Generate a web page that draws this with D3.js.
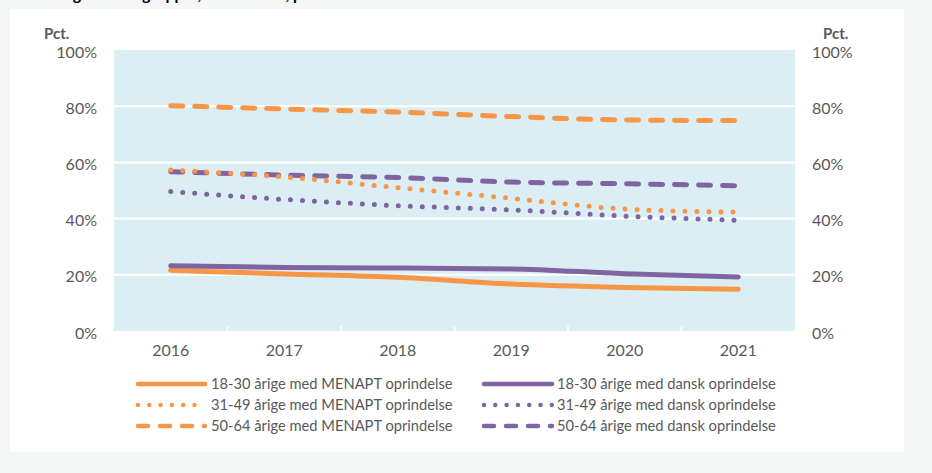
<!DOCTYPE html>
<html>
<head>
<meta charset="utf-8">
<script src="https://cdn.jsdelivr.net/npm/d3@7"></script>
<style>
  html, body { margin: 0; padding: 0; background: #f5f7f7; }
  svg { display: block; }
  text { font-family: Lato, "Open Sans", sans-serif; }
</style>
</head>
<body>
<div id="chart"></div>
<script>
// ---- data ----
const years = ["2016", "2017", "2018", "2019", "2020", "2021"];
const yTicks = [0, 20, 40, 60, 80, 100];

const menapt_18_30 = [21.6, 20.3, 19.1, 16.7, 15.5, 14.9];
const menapt_31_49 = [57.3, 54.8, 51.0, 47.2, 43.4, 42.3];
const menapt_50_64 = [80.2, 79.0, 77.9, 76.3, 75.1, 74.9];
const dansk_18_30 = [23.2, 22.6, 22.4, 22.1, 20.4, 19.2];
const dansk_31_49 = [49.6, 46.8, 44.6, 43.1, 40.9, 39.4];
const dansk_50_64 = [56.7, 55.5, 54.6, 53.0, 52.4, 51.7];

const seriesNames = [
  "18-30 årige med MENAPT oprindelse",
  "31-49 årige med MENAPT oprindelse",
  "50-64 årige med MENAPT oprindelse",
  "18-30 årige med dansk oprindelse",
  "31-49 årige med dansk oprindelse",
  "50-64 årige med dansk oprindelse"
];
const titleText = "for udvalgte aldersgrupper, 2016-2021, pct.";
const axisTitle = "Pct.";

// ---- styles ----
const ORANGE = "#f79646";
const PURPLE = "#8064a2";
const series = [
  { name: seriesNames[0], values: menapt_18_30, color: ORANGE, style: "solid" },
  { name: seriesNames[1], values: menapt_31_49, color: ORANGE, style: "dot" },
  { name: seriesNames[2], values: menapt_50_64, color: ORANGE, style: "dash" },
  { name: seriesNames[3], values: dansk_18_30, color: PURPLE, style: "solid" },
  { name: seriesNames[4], values: dansk_31_49, color: PURPLE, style: "dot" },
  { name: seriesNames[5], values: dansk_50_64, color: PURPLE, style: "dash" }
];
const dashFor = { solid: null, dot: "0 12", dash: "12 12" };
const legendDash = { solid: null, dot: "0 11.3", dash: "10 12" };

const W = 932, H = 473;
const plot = { left: 114, right: 795, top: 50, bottom: 331 };
const TXT = "#595959";

const svg = d3.select("#chart").append("svg").attr("width", W).attr("height", H);

// page background & panel
svg.append("rect").attr("width", W).attr("height", H).attr("fill", "#f5f7f7");
svg.append("text").attr("x", 10).attr("y", 0)
  .attr("font-size", 16).attr("font-weight", "bold").attr("fill", "#000")
  .text(titleText);
svg.append("rect").attr("x", 10).attr("y", 9).attr("width", 894).attr("height", 443).attr("fill", "#ffffff");

const x = d3.scaleBand().domain(years).range([plot.left, plot.right]).padding(0);
const y = d3.scaleLinear().domain([0, 100]).range([plot.bottom, plot.top]);
const cx = d => x(d) + x.bandwidth() / 2;

// plot area
svg.append("rect").attr("x", plot.left).attr("y", plot.top)
  .attr("width", plot.right - plot.left).attr("height", plot.bottom - plot.top)
  .attr("fill", "#daeef3");

// gridlines
svg.append("g").selectAll("line").data(yTicks.filter(t => t > 0 && t < 100)).join("line")
  .attr("x1", plot.left).attr("x2", plot.right)
  .attr("y1", d => y(d)).attr("y2", d => y(d))
  .attr("stroke", "#ffffff").attr("stroke-width", 2);

// x tick marks (white, inside)
const bounds = years.slice(1).map(d => x(d));
svg.append("g").selectAll("line").data(bounds).join("line")
  .attr("x1", d => d).attr("x2", d => d)
  .attr("y1", plot.bottom - 5).attr("y2", plot.bottom)
  .attr("stroke", "#ffffff").attr("stroke-width", 1.5);

// y axes (labels only)
const leftAxis = d3.axisLeft(y).tickValues(yTicks).tickFormat(d => d + "%").tickSize(0).tickPadding(0);
const gl = svg.append("g").attr("transform", `translate(97,2)`).call(leftAxis);
gl.select(".domain").remove();
gl.selectAll("text").attr("font-size", 16).attr("fill", TXT).attr("font-family", "Lato, sans-serif");

const rightAxis = d3.axisRight(y).tickValues(yTicks).tickFormat(d => d + "%").tickSize(0).tickPadding(0);
const gr = svg.append("g").attr("transform", `translate(812,2)`).call(rightAxis);
gr.select(".domain").remove();
gr.selectAll("text").attr("font-size", 16).attr("fill", TXT).attr("font-family", "Lato, sans-serif");

svg.append("text").attr("x", 44).attr("y", 39).attr("font-size", 15).attr("font-weight", "bold")
  .attr("fill", TXT).text(axisTitle);
svg.append("text").attr("x", 823).attr("y", 39).attr("font-size", 15).attr("font-weight", "bold")
  .attr("fill", TXT).text(axisTitle);

// x axis labels
const bottomAxis = d3.axisBottom(x).tickSize(0).tickPadding(0);
const gb = svg.append("g").attr("transform", `translate(0,${plot.bottom + 14})`).call(bottomAxis);
gb.select(".domain").remove();
gb.selectAll("text").attr("font-size", 16).attr("fill", TXT).attr("font-family", "Lato, sans-serif");

// lines
const line = d3.line().x((d, i) => cx(years[i])).y(d => y(d)).curve(d3.curveMonotoneX);
const drawOrder = [2, 5, 1, 4, 0, 3];
svg.append("g").selectAll("path").data(drawOrder.map(i => series[i])).join("path")
  .attr("d", d => line(d.values))
  .attr("fill", "none")
  .attr("stroke", d => d.color)
  .attr("stroke-width", 5)
  .attr("stroke-linecap", "round")
  .attr("stroke-linejoin", "round")
  .attr("stroke-dasharray", d => dashFor[d.style]);

// legend
const legendRows = [384, 405, 426];
const legendCols = [{ x1: 138, x2: 205, tx: 211 }, { x1: 484, x2: 552, tx: 557 }];
const lg = svg.append("g");
series.forEach((s, i) => {
  const col = legendCols[Math.floor(i / 3)];
  const ry = legendRows[i % 3];
  lg.append("line").attr("x1", col.x1).attr("x2", col.x2).attr("y1", ry).attr("y2", ry)
    .attr("stroke", s.color).attr("stroke-width", 4.5).attr("stroke-linecap", "round")
    .attr("stroke-dasharray", legendDash[s.style]);
  lg.append("text").attr("x", col.tx).attr("y", ry).attr("dy", "0.35em")
    .attr("font-size", 14.7).attr("fill", TXT).text(s.name);
});
</script>
</body>
</html>
